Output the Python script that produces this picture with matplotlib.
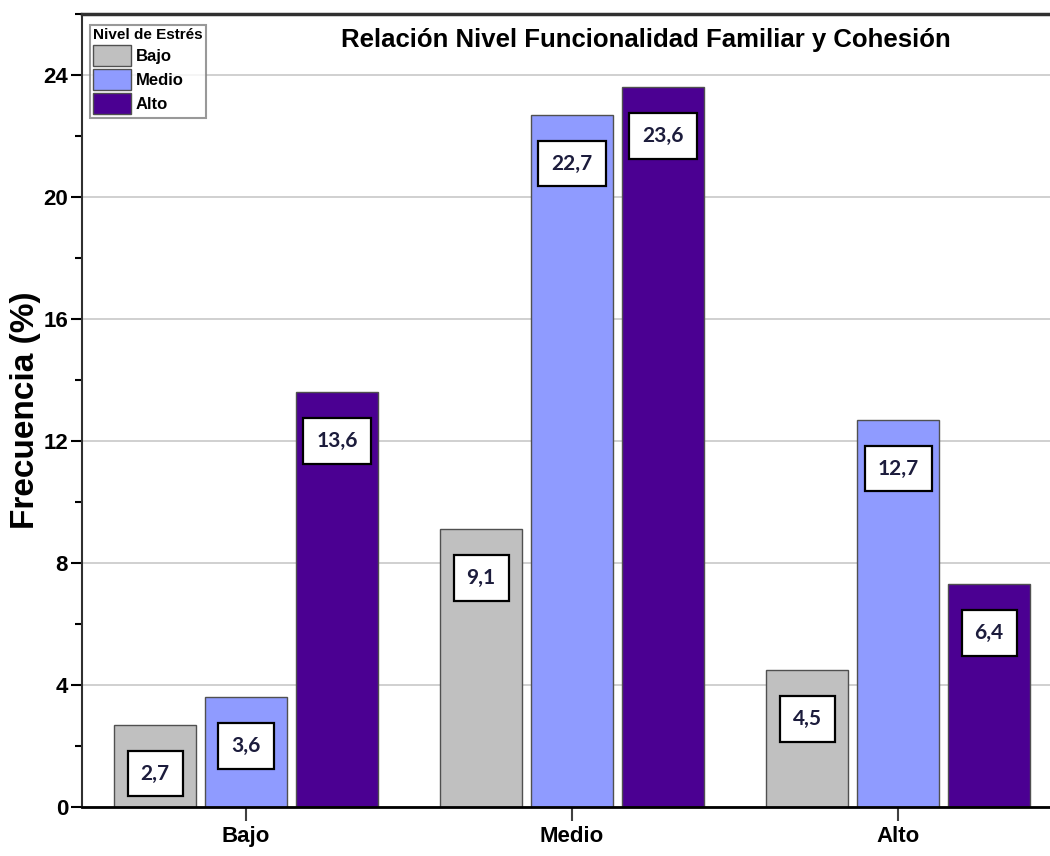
import numpy as np
import matplotlib.pyplot as plt
from matplotlib.ticker import MultipleLocator

# categories on the x axis (nivel de funcionalidad familiar)
categories = ["Bajo", "Medio", "Alto"]
# series = nivel de estres
series_names = ["Bajo", "Medio", "Alto"]
series_colors = ["#c0c0c0", "#8f9bff", "#4b0092"]
# bar heights as drawn in the picture
heights = [
    [2.7, 9.1, 4.5],    # Bajo
    [3.6, 22.7, 12.7],  # Medio
    [13.6, 23.6, 7.3],  # Alto
]
# labels printed in the boxes
box_labels = [
    ["2,7", "9,1", "4,5"],
    ["3,6", "22,7", "12,7"],
    ["13,6", "23,6", "6,4"],
]
yticks = [0, 4, 8, 12, 16, 20, 24]

plt.rcParams['font.family'] = ["Liberation Sans", "DejaVu Sans"]

fig = plt.figure(figsize=(10.5, 8.56), dpi=100)
ax = fig.add_axes([0.0781, 0.0572, 0.9219, 0.9264])

x = np.arange(len(categories))
width = 0.252
step = 0.279
for i, name in enumerate(series_names):
    pos = x + (i - 1) * step
    ax.bar(pos, heights[i], width, color=series_colors[i], edgecolor="#505050",
           linewidth=1.0, label=name, zorder=2)
    for xp, h, lab in zip(pos, heights[i], box_labels[i]):
        ax.text(xp, h - 1.6, lab, ha="center", va="center", fontsize=15,
                fontweight="bold", color="#1c1c3c", family=["Lato", "DejaVu Sans"],
                zorder=4,
                bbox=dict(boxstyle="square,pad=0.62", facecolor="white",
                          edgecolor="black", linewidth=1.6))

ax.set_xlim(-0.503, 2.466)
ax.set_ylim(0, 26)
ax.set_yticks(yticks)
ax.yaxis.set_minor_locator(MultipleLocator(2))
ax.set_xticks(x)
ax.set_xticklabels(categories, fontsize=16, fontweight="bold")
for t in ax.get_yticklabels():
    t.set_fontsize(16)
    t.set_fontweight("bold")

ax.tick_params(axis="y", which="major", direction="out", length=8, width=1.5, pad=2)
ax.tick_params(axis="y", which="minor", direction="out", length=5, width=1.5)
ax.tick_params(axis="x", which="major", direction="out", length=10, width=1.5,
               color="#404040", pad=4)

ax.grid(axis="y", color="#c8c8c8", linewidth=1.2, zorder=0)
ax.set_axisbelow(True)

ax.spines["right"].set_visible(False)
ax.spines["left"].set_linewidth(1.5)
ax.spines["left"].set_color("#303030")
ax.spines["bottom"].set_linewidth(2)
ax.spines["top"].set_linewidth(2.5)
ax.spines["top"].set_color("#303030")

ax.set_ylabel("Frecuencia (%)", fontsize=24, fontweight="bold")
ax.yaxis.set_label_coords(-0.042, 0.5)

ax.text(0.582, 0.982, "Relación Nivel Funcionalidad Familiar y Cohesión",
        transform=ax.transAxes, ha="center", va="top", fontsize=18.5,
        fontweight="bold")

leg = ax.legend(title="Nivel de Estrés", loc="upper left",
                bbox_to_anchor=(0.008, 0.986), prop={"weight": "bold", "size": 12},
                title_fontproperties={"weight": "bold", "size": 11},
                frameon=True, fancybox=False, edgecolor="#808080",
                handlelength=2.3, handleheight=1.6, handletextpad=0.25,
                labelspacing=0.15, borderpad=0.2, borderaxespad=0)
leg.get_frame().set_linewidth(1.5)
leg._legend_box.align = "left"

fig.savefig("out.png", dpi=100)
